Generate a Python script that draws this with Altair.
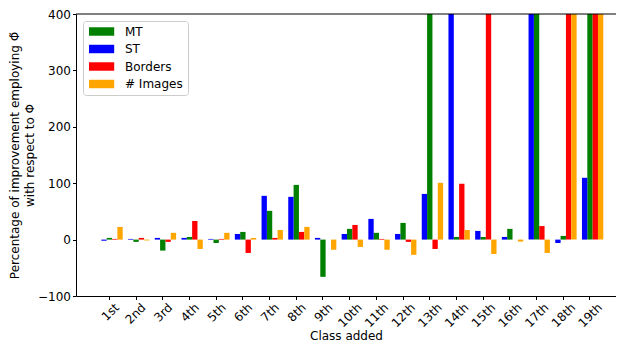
import altair as alt
import pandas as pd

classes = ["1st", "2nd", "3rd", "4th", "5th", "6th", "7th", "8th", "9th", "10th",
           "11th", "12th", "13th", "14th", "15th", "16th", "17th", "18th", "19th"]
series = ["MT", "ST", "Borders", "# Images"]
bar_order = ["_pad", "ST", "MT", "Borders", "# Images"]
colors = ["green", "blue", "red", "orange"]

# values above 400 run off the top of the axis
mt = [3, -4, -19.5, 4.7, -6, 13.6, 51, 97, -66, 19, 12, 29.6, 450, 4.7, 4.7, 19, 450, 6.5, 450]
st = [-2, 1.2, 3, 3, 1.2, 10, 77.6, 75.8, 3, 10, 36.7, 10, 81, 450, 15.4, 4.7, 450, -6, 109.6]
borders = [1.2, 3, -4, 33, 1.2, -23.7, 3, 13.6, 0, 26, 1.2, -4, -16.6, 99, 450, 0, 24, 450, 450]
images = [22.5, -1.5, 12, -16.6, 12, 3, 17, 22.5, -18, -13, -18, -27, 100.7, 17, -25.5, -3.5, -23.7, 450, 450]

y_ticks = [-100, 0, 100, 200, 300, 400]
y_title = ["Percentage of improvement employing \u03a6\u0303", "with respect to \u03a6"]

rows = []
for name, vals in zip(series, [mt, st, borders, images]):
    for c, v in zip(classes, vals):
        rows.append({"cls": c, "series": name, "value": v})
df = pd.DataFrame(rows)

y_enc = alt.Y("value:Q", title=y_title,
              scale=alt.Scale(domain=[y_ticks[0], y_ticks[-1]], nice=False, zero=False),
              axis=alt.Axis(values=y_ticks, titlePadding=1.5, titleLineHeight=15))

bars = alt.Chart(df).mark_bar(clip=True).encode(
    x=alt.X("cls:N", sort=classes, title="Class added",
            scale=alt.Scale(paddingInner=0, paddingOuter=0.612, align=0.612),
            axis=alt.Axis(labelAngle=-45, labelAlign="right", labelBaseline="top",
                          labelPadding=2,
                          labelOffset={"condition": {"test": "length(datum.label) > 3", "value": 6.5},
                                       "value": 4},
                          titleY=43.5, titleBaseline="alphabetic")),
    xOffset=alt.XOffset("series:N",
                        scale=alt.Scale(domain=bar_order, paddingInner=0, paddingOuter=0)),
    y=y_enc,
    color=alt.Color("series:N", scale=alt.Scale(domain=series, range=colors),
                    legend=alt.Legend(title=None, orient="top-left", offset=7, padding=4.5,
                                      strokeColor="#cccccc", fillColor="rgba(255,255,255,0.8)",
                                      cornerRadius=3,
                                      symbolType="M-1,-0.94H4.6V0.94H-1Z", symbolSize=81,
                                      symbolStrokeWidth=0, symbolOpacity=1,
                                      labelOffset=25.5, rowPadding=5.5,
                                      labelFontSize=12, labelColor="black")),
)

top_frame = alt.Chart(pd.DataFrame({"value": [y_ticks[-1]]})).mark_rule(
    color="black", strokeWidth=1
).encode(y=y_enc)

chart = alt.layer(bars, top_frame).properties(
    width=540, height=282,
    autosize=alt.AutoSizeParams(type="none"),
    padding={"left": 68, "top": 6, "right": 0, "bottom": 46}
).configure(
    font="DejaVu Sans"
).configure_view(
    stroke=None
).configure_axis(
    grid=False, domainColor="black", tickColor="black", tickSize=3.5,
    labelColor="black", labelFontSize=12, titleFontSize=12, titleFontWeight="normal",
    titleColor="black", labelFont="DejaVu Sans", titleFont="DejaVu Sans"
)

chart.save("out.html", embed_options={"renderer": "svg", "actions": False})
